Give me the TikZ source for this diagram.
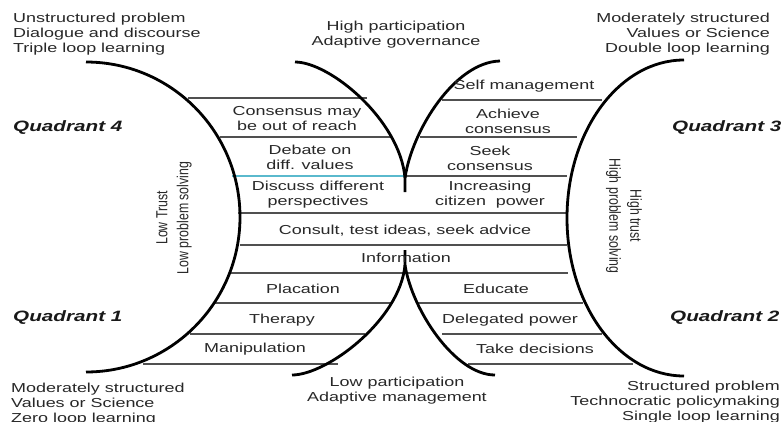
\documentclass[tikz,border=0pt]{standalone}
\usepackage{fontspec}
\newfontfamily\dfont[FakeStretch=1.38]{Liberation Sans}
\newfontfamily\rfont[FakeStretch=0.77]{Liberation Sans}
\definecolor{txtc}{RGB}{40,40,40}
\definecolor{rowc}{RGB}{80,80,80}
\definecolor{cyanline}{RGB}{90,185,205}
\begin{document}
\begin{tikzpicture}[x=1pt,y=-1pt,
  txt/.style={font=\dfont\fontsize{13}{15}\selectfont, text=txtc, inner sep=0pt, align=center},
  quad/.style={font=\dfont\bfseries\itshape\fontsize{15}{18}\selectfont, text=black!90, inner sep=0pt, anchor=west},
  rot/.style={font=\rfont\fontsize{16}{21}\selectfont, text=txtc, inner sep=0pt, align=center},
  curve/.style={line width=2.8pt, black},
  rowline/.style={line width=1.1pt, rowc},
]
\fill[white] (0,0) rectangle (781,421);
\useasboundingbox (0,0) rectangle (781,421);

% rung lines, left column
\draw[rowline] (188,98) -- (367,98);
\draw[rowline] (220,137) -- (392,137);
\draw[line width=1.1pt, cyanline] (232,176) -- (405,176);
\draw[rowline] (238,213) -- (567,213);
\draw[rowline] (240,245) -- (567,245);
\draw[rowline] (230,273) -- (568,273);
\draw[rowline] (215,303) -- (392,303);
\draw[rowline] (190,334) -- (365,334);
\draw[rowline] (143,364) -- (338,364);
% rung lines, right column
\draw[rowline] (442,100) -- (602,100);
\draw[rowline] (420,137) -- (577,137);
\draw[rowline] (405,176) -- (567,176);
\draw[rowline] (418,303) -- (583,303);
\draw[rowline] (442,334) -- (602,334);
\draw[rowline] (468,364) -- (633,364);

% big curves
\draw[curve] (86,62) arc[start angle=-90, end angle=90, x radius=154, y radius=155];
\draw[curve] (684,60) arc[start angle=-90, end angle=-270, x radius=117, y radius=158];
% upper cusp
\draw[curve] (295,62) .. controls (330,62) and (400,120) .. (405,178) -- (405,192);
\draw[curve] (405,178) .. controls (412,130) and (455,62) .. (500,61);
% lower cusp
\draw[curve] (292,375) .. controls (327,375) and (400,320) .. (405,265) -- (405,250);
\draw[curve] (405,265) .. controls (412,310) and (455,375) .. (495,375);

% left column texts
\node[txt] (l1) at (297,119) {Consensus may\\be out of reach};
\node[txt] (l2) at (310,157) {Debate on\\diff. values};
\node[txt] (l3) at (318,195) {Discuss different\\perspectives};
\node[txt] (mid1) at (405,231) {Consult, test ideas, seek advice};
\node[txt] (mid2) at (406,258) {Information};
\node[txt] (l4) at (303,289) {Placation};
\node[txt] (l5) at (282,320) {Therapy};
\node[txt] (l6) at (255,349) {Manipulation};
% right column texts
\node[txt] (r1) at (524,86) {Self management};
\node[txt] (r2) at (508,121) {Achieve\\consensus};
\node[txt] (r3) at (490,158) {Seek\\consensus};
\node[txt] (r4) at (490,195) {Increasing\\citizen~~power};
\node[txt] (r5) at (496,289) {Educate};
\node[txt] (r6) at (510,320) {Delegated power};
\node[txt] (r7) at (535,349) {Take decisions};

% corner texts
\node[txt, align=left, anchor=west] (tl) at (13,34) {Unstructured problem\\Dialogue and discourse\\Triple loop learning};
\node[txt] (tm) at (396,35) {High participation\\Adaptive governance};
\node[txt, align=right, anchor=east] (tr) at (770,34) {Moderately structured\\Values or Science\\Double loop learning};
\node[txt, align=left, anchor=west] (bl) at (11,404) {Moderately structured\\Values or Science\\Zero loop learning};
\node[txt] (bm) at (397,391) {Low participation\\Adaptive management};
\node[txt, align=right, anchor=east] (br) at (780,402) {Structured problem\\Technocratic policymaking\\Single loop learning};

% quadrant labels
\node[quad] (q4) at (13,128) {Quadrant 4};
\node[quad] (q3) at (672,128) {Quadrant 3};
\node[quad] (q1) at (13,318) {Quadrant 1};
\node[quad] (q2) at (670,318) {Quadrant 2};

% rotated labels
\node[rot, rotate=90] (lowtrust) at (174,218) {Low Trust\\Low problem solving};
\node[rot, rotate=-90] (hightrust) at (624,216) {High trust\\High problem solving};
\end{tikzpicture}
\end{document}
